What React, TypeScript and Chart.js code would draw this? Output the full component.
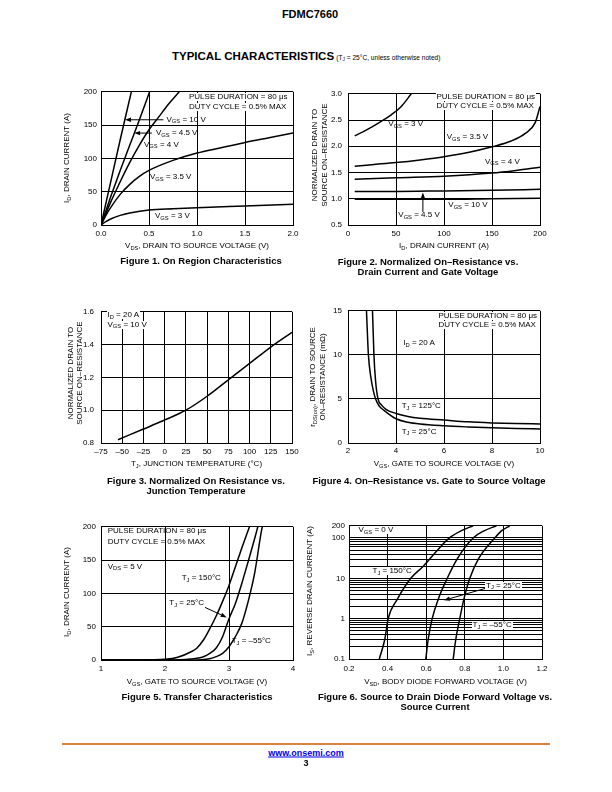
import React, { useEffect, useRef } from "react";
import { Chart, registerables } from "chart.js";

Chart.register(...registerables);

const FONT = "'Liberation Sans', Arial, Helvetica, sans-serif";

// ---------------- Figure 1: On Region Characteristics ----------------
const f1XLabels = ["0.0", "0.5", "1.0", "1.5", "2.0"];
const f1YLabels = ["0", "50", "100", "150", "200"];
const f1Vds10 = [0, 0.1, 0.2, 0.316];
const f1Id10 = [0, 64, 128, 200];
const f1Vds45 = [0, 0.1, 0.2, 0.3, 0.4, 0.506];
const f1Id45 = [0, 42, 82, 120, 158, 200];
const f1Vds4 = [0, 0.1, 0.2, 0.3, 0.4, 0.5, 0.6, 0.7, 0.815];
const f1Id4 = [0, 34, 65, 94, 120, 143, 162, 181, 200];
const f1Vds35 = [0, 0.05, 0.1, 0.2, 0.3, 0.4, 0.5, 0.75, 1.0, 1.25, 1.5, 1.75, 2.0];
const f1Id35 = [0, 14, 26, 46, 61, 73, 82, 97, 108, 116, 124, 131, 138];
const f1Vds3 = [0, 0.05, 0.1, 0.2, 0.3, 0.5, 0.75, 1.0, 1.5, 2.0];
const f1Id3 = [0, 5, 9, 14.5, 18, 22.5, 24.5, 26, 28.5, 31];

// ---------------- Figure 2: Normalized On-Resistance vs Drain Current ----------------
const f2XLabels = ["0", "50", "100", "150", "200"];
const f2YLabels = ["0.5", "1.0", "1.5", "2.0", "2.5", "3.0"];
const f2Id3 = [7, 15, 25, 35, 45, 55, 66];
const f2R3 = [2.2, 2.27, 2.37, 2.48, 2.6, 2.75, 3.0];
const f2Id35 = [7, 25, 50, 75, 100, 125, 150, 170, 185, 195, 200];
const f2R35 = [1.62, 1.65, 1.69, 1.74, 1.8, 1.88, 1.99, 2.1, 2.25, 2.45, 2.76];
const f2Id4 = [7, 50, 100, 150, 175, 200];
const f2R4 = [1.37, 1.4, 1.43, 1.49, 1.54, 1.6];
const f2Id45 = [7, 50, 100, 150, 200];
const f2R45 = [1.14, 1.14, 1.15, 1.16, 1.18];
const f2Id10 = [7, 50, 100, 150, 200];
const f2R10 = [0.99, 0.99, 0.99, 1.0, 1.01];

// ---------------- Figure 3: Normalized On Resistance vs Junction Temperature ----------------
const f3XLabels = ["\u201375", "\u201350", "\u201325", "0", "25", "50", "75", "100", "125", "150"];
const f3YLabels = ["0.8", "1.0", "1.2", "1.4", "1.6"];
const f3Tj = [-55, -25, 0, 25, 50, 75, 100, 125, 150];
const f3R = [0.82, 0.885, 0.94, 1.0, 1.085, 1.185, 1.285, 1.385, 1.475];

// ---------------- Figure 4: On-Resistance vs Gate to Source Voltage ----------------
const f4XLabels = ["2", "4", "6", "8", "10"];
const f4YLabels = ["0", "5", "10", "15"];
const f4Vgs25 = [2.77, 2.8, 2.85, 2.95, 3.05, 3.15, 3.3, 3.5, 4, 4.5, 5, 6, 7, 8, 9, 10];
const f4R25 = [15, 13, 10, 7.5, 6, 5, 4.2, 3.7, 2.75, 2.35, 2.15, 1.95, 1.82, 1.72, 1.65, 1.6];
const f4Vgs125 = [3.02, 3.05, 3.08, 3.15, 3.25, 3.4, 3.6, 4, 4.5, 5, 6, 7, 8, 9, 10];
const f4R125 = [15, 12.5, 10, 7, 5, 4.3, 3.8, 3.35, 3.0, 2.8, 2.6, 2.4, 2.28, 2.2, 2.16];

// ---------------- Figure 5: Transfer Characteristics ----------------
const f5XLabels = ["1", "2", "3", "4"];
const f5YLabels = ["0", "50", "100", "150", "200"];
const f5Vgs150 = [1.0, 1.6, 2.0, 2.2, 2.4, 2.5, 2.6, 2.7, 2.8, 2.9, 3.0, 3.1, 3.2, 3.32];
const f5Id150 = [0, 0, 1, 4, 12, 18, 30, 47, 66, 88, 112, 140, 168, 200];
const f5Vgs25 = [1.0, 2.0, 2.4, 2.6, 2.7, 2.8, 2.9, 3.0, 3.1, 3.2, 3.3, 3.4, 3.45];
const f5Id25 = [0, 0, 1.5, 5, 10, 18, 35, 62, 85, 115, 148, 182, 200];
const f5VgsM55 = [1.0, 2.4, 2.7, 2.8, 2.9, 3.0, 3.1, 3.2, 3.3, 3.4, 3.5, 3.52];
const f5IdM55 = [0, 0, 2, 5, 10, 20, 35, 55, 88, 130, 190, 200];

// ---------------- Figure 6: Source to Drain Diode Forward Voltage ----------------
const f6XLabels = ["0.2", "0.4", "0.6", "0.8", "1.0", "1.2"];
const f6YGrid = [0.1, 0.2, 0.3, 0.4, 0.5, 0.6, 0.7, 0.8, 0.9, 1, 2, 3, 4, 5, 6, 7, 8, 9, 10, 20, 30, 40, 50, 60, 70, 80, 90, 100, 200];
const f6YLabelVals = [0.1, 1, 10, 100, 200];
const f6YLabels = ["0.1", "1", "10", "100", "200"];
const f6Vsd150 = [0.357, 0.385, 0.403, 0.45, 0.52, 0.585, 0.65, 0.72, 0.78, 0.843];
const f6Is150 = [0.1, 0.3, 1, 3, 10, 20, 45, 100, 150, 200];
const f6Vsd25 = [0.598, 0.61, 0.631, 0.662, 0.709, 0.76, 0.843, 0.9, 0.964];
const f6Is25 = [0.1, 0.3, 1, 3, 10, 30, 100, 150, 200];
const f6VsdM55 = [0.74, 0.753, 0.774, 0.795, 0.826, 0.87, 0.955, 0.99, 1.033];
const f6IsM55 = [0.1, 0.3, 1, 3, 10, 30, 100, 150, 200];

// ---------------- chart construction ----------------
type Series = { x: number[]; y: number[] };
type Arrow = { x1: number; y1: number; x2: number; y2: number };
type Axis = {
  min: number;
  max: number;
  step?: number;
  labels: string[];
  pad: number;
  log?: boolean;
  grid?: number[];
  labelVals?: number[];
};
type Spec = { x: Axis; y: Axis; series: Series[]; arrows?: Arrow[] };

const PAD = { l: 45, r: 12, t: 8, b: 20 };

const arrowPlugin = {
  id: "arrows",
  afterDatasetsDraw(chart: any, _args: any, opts: any) {
    const list: Arrow[] = (opts && opts.list) || [];
    const { ctx } = chart;
    const xs = chart.scales.x;
    const ys = chart.scales.y;
    ctx.save();
    ctx.strokeStyle = "#000";
    ctx.fillStyle = "#000";
    ctx.lineWidth = 1;
    for (const a of list) {
      const x1 = xs.getPixelForValue(a.x1);
      const y1 = ys.getPixelForValue(a.y1);
      const x2 = xs.getPixelForValue(a.x2);
      const y2 = ys.getPixelForValue(a.y2);
      const ang = Math.atan2(y2 - y1, x2 - x1);
      const L = 6;
      const W = 2.2;
      const bx = x2 - L * Math.cos(ang);
      const by = y2 - L * Math.sin(ang);
      ctx.beginPath();
      ctx.moveTo(x1, y1);
      ctx.lineTo(bx, by);
      ctx.stroke();
      ctx.beginPath();
      ctx.moveTo(x2, y2);
      ctx.lineTo(bx - W * Math.sin(ang), by + W * Math.cos(ang));
      ctx.lineTo(bx + W * Math.sin(ang), by - W * Math.cos(ang));
      ctx.closePath();
      ctx.fill();
    }
    ctx.restore();
  },
};

function scaleCfg(a: Axis, isX: boolean): any {
  const base: any = {
    min: a.min,
    max: a.max,
    grid: { color: "#000", lineWidth: 1, drawTicks: false },
    border: { color: "#000", width: 1 },
    ticks: {
      padding: a.pad,
      color: "#000",
      font: { family: FONT, size: 8 },
      autoSkip: false,
      maxRotation: 0,
      minRotation: 0,
    },
    afterFit: (sc: any) => {
      if (isX) sc.height = PAD.b;
      else sc.width = PAD.l;
    },
  };
  if (a.log) {
    base.type = "logarithmic";
    base.afterBuildTicks = (sc: any) => {
      sc.ticks = (a.grid || []).map((v) => ({ value: v }));
    };
    base.ticks.callback = (v: number) => {
      const vals = a.labelVals || [];
      const k = vals.findIndex((t) => Math.abs(t - v) < t * 1e-6);
      return k >= 0 ? a.labels[k] : "";
    };
  } else {
    base.type = "linear";
    base.ticks.stepSize = a.step;
    base.ticks.callback = (_v: number, i: number) => a.labels[i] ?? "";
  }
  return base;
}

function buildConfig(s: Spec): any {
  return {
    type: "scatter",
    data: {
      datasets: s.series.map((ser) => ({
        data: ser.x.map((x, i) => ({ x, y: ser.y[i] })),
        showLine: true,
        borderColor: "#000",
        borderWidth: 1.5,
        pointRadius: 0,
        pointHoverRadius: 0,
        fill: false,
        cubicInterpolationMode: "monotone",
      })),
    },
    options: {
      animation: false,
      responsive: false,
      events: [],
      layout: { padding: { top: PAD.t, right: PAD.r, left: 0, bottom: 0 } },
      plugins: {
        legend: { display: false },
        tooltip: { enabled: false },
        arrows: { list: s.arrows || [] },
      },
      scales: { x: scaleCfg(s.x, true), y: scaleCfg(s.y, false) },
    },
    plugins: [arrowPlugin],
  };
}

const spec1: Spec = {
  x: { min: 0, max: 2, step: 0.5, labels: f1XLabels, pad: 4 },
  y: { min: 0, max: 200, step: 50, labels: f1YLabels, pad: 4 },
  series: [
    { x: f1Vds10, y: f1Id10 },
    { x: f1Vds45, y: f1Id45 },
    { x: f1Vds4, y: f1Id4 },
    { x: f1Vds35, y: f1Id35 },
    { x: f1Vds3, y: f1Id3 },
  ],
  arrows: [
    { x1: 0.65, y1: 158, x2: 0.25, y2: 158 },
    { x1: 0.53, y1: 138, x2: 0.345, y2: 138 },
  ],
};

const spec2: Spec = {
  x: { min: 0, max: 200, step: 50, labels: f2XLabels, pad: 4 },
  y: { min: 0.5, max: 3, step: 0.5, labels: f2YLabels, pad: 6 },
  series: [
    { x: f2Id3, y: f2R3 },
    { x: f2Id35, y: f2R35 },
    { x: f2Id4, y: f2R4 },
    { x: f2Id45, y: f2R45 },
    { x: f2Id10, y: f2R10 },
  ],
  arrows: [{ x1: 78, y1: 0.75, x2: 78, y2: 1.12 }],
};

const spec3: Spec = {
  x: { min: -75, max: 150, step: 25, labels: f3XLabels, pad: 4 },
  y: { min: 0.8, max: 1.6, step: 0.2, labels: f3YLabels, pad: 7 },
  series: [{ x: f3Tj, y: f3R }],
};

const spec4: Spec = {
  x: { min: 2, max: 10, step: 2, labels: f4XLabels, pad: 3 },
  y: { min: 0, max: 15, step: 5, labels: f4YLabels, pad: 6 },
  series: [
    { x: f4Vgs25, y: f4R25 },
    { x: f4Vgs125, y: f4R125 },
  ],
};

const spec5: Spec = {
  x: { min: 1, max: 4, step: 1, labels: f5XLabels, pad: 4 },
  y: { min: 0, max: 200, step: 50, labels: f5YLabels, pad: 5 },
  series: [
    { x: f5Vgs150, y: f5Id150 },
    { x: f5Vgs25, y: f5Id25 },
    { x: f5VgsM55, y: f5IdM55 },
  ],
  arrows: [{ x1: 2.625, y1: 79, x2: 2.964, y2: 64 }],
};

const spec6: Spec = {
  x: { min: 0.2, max: 1.2, step: 0.2, labels: f6XLabels, pad: 5 },
  y: {
    min: 0.1,
    max: 200,
    labels: f6YLabels,
    labelVals: f6YLabelVals,
    grid: f6YGrid,
    log: true,
    pad: 4,
  },
  series: [
    { x: f6Vsd150, y: f6Is150 },
    { x: f6Vsd25, y: f6Is25 },
    { x: f6VsdM55, y: f6IsM55 },
  ],
  arrows: [{ x1: 0.905, y1: 5.6, x2: 0.692, y2: 2.85 }],
};

function Plot({ box, spec }: { box: number[]; spec: Spec }) {
  const ref = useRef<HTMLCanvasElement>(null);
  const [L, T, R, B] = box;
  const w = R - L + PAD.l + PAD.r;
  const h = B - T + PAD.t + PAD.b;
  useEffect(() => {
    const chart = new Chart(ref.current as HTMLCanvasElement, buildConfig(spec));
    return () => chart.destroy();
  }, []);
  return (
    <canvas
      ref={ref}
      width={w}
      height={h}
      style={{ position: "absolute", left: L - PAD.l, top: T - PAD.t, width: w, height: h, zIndex: 1 }}
    />
  );
}

// ---------------- text helpers ----------------
const S = ({ c }: { c: string }) => (
  <span style={{ fontSize: "0.72em", position: "relative", top: "0.28em" }}>{c}</span>
);

function Txt(props: {
  x: number;
  y: number;
  size?: number;
  bold?: boolean;
  align?: "left" | "center" | "right";
  bg?: boolean;
  color?: string;
  underline?: boolean;
  children: any;
}) {
  const { x, y, size = 8, bold = false, align = "left", bg = false, color = "#000", underline = false } = props;
  const tx = align === "center" ? "-50%" : align === "right" ? "-100%" : "0";
  return (
    <div
      style={{
        position: "absolute",
        left: x,
        top: y,
        transform: `translate(${tx}, -50%)`,
        fontFamily: FONT,
        fontSize: size,
        fontWeight: bold ? "bold" : "normal",
        lineHeight: 1,
        whiteSpace: "nowrap",
        color,
        background: bg ? "#fff" : "transparent",
        padding: bg ? "0 1px" : 0,
        textDecoration: underline ? "underline" : "none",
        zIndex: 2,
      }}
    >
      {props.children}
    </div>
  );
}

function VTxt({ x, y, size = 8, children }: { x: number; y: number; size?: number; children: any }) {
  return (
    <div
      style={{
        position: "absolute",
        left: x,
        top: y,
        transform: "translate(-50%, -50%) rotate(-90deg)",
        fontFamily: FONT,
        fontSize: size,
        lineHeight: 1,
        whiteSpace: "nowrap",
        color: "#000",
        zIndex: 2,
      }}
    >
      {children}
    </div>
  );
}

export default function App() {
  return (
    <div
      style={{
        position: "absolute",
        left: 0,
        top: 0,
        width: 612,
        height: 792,
        background: "#fff",
        overflow: "hidden",
        fontFamily: FONT,
        color: "#000",
      }}
    >
      {/* header */}
      <Txt x={310} y={14} size={11} bold align="center">
        FDMC7660
      </Txt>
      <Txt x={172} y={57}>
        <span style={{ fontSize: 11.5, fontWeight: "bold" }}>TYPICAL CHARACTERISTICS</span>{" "}
        <span style={{ fontSize: 6.6 }}>
          (T<S c="J" /> = 25°C, unless otherwise noted)
        </span>
      </Txt>

      {/* Figure 1 */}
      <Plot box={[101, 91, 293, 225]} spec={spec1} />
      <VTxt x={67} y={158}>
        I<S c="D" />, DRAIN CURRENT (A)
      </VTxt>
      <Txt x={197} y={246} align="center">
        V<S c="DS" />, DRAIN TO SOURCE VOLTAGE (V)
      </Txt>
      <Txt x={201} y={261} size={9.5} bold align="center">
        Figure 1. On Region Characteristics
      </Txt>
      <Txt x={188} y={97} bg>PULSE DURATION = 80 μs</Txt>
      <Txt x={188} y={107} bg>DUTY CYCLE = 0.5% MAX</Txt>
      <Txt x={166.5} y={119.5}>V<S c="GS" /> = 10 V</Txt>
      <Txt x={156} y={133}>V<S c="GS" /> = 4.5 V</Txt>
      <Txt x={144} y={144.5}>V<S c="GS" /> = 4 V</Txt>
      <Txt x={150} y={177}>V<S c="GS" /> = 3.5 V</Txt>
      <Txt x={155} y={216}>V<S c="GS" /> = 3 V</Txt>

      {/* Figure 2 */}
      <Plot box={[348, 91, 540, 225]} spec={spec2} />
      <VTxt x={315} y={155}>NORMALIZED DRAIN TO</VTxt>
      <VTxt x={325} y={155}>SOURCE ON–RESISTANCE</VTxt>
      <Txt x={444} y={246} align="center">
        I<S c="D" />, DRAIN CURRENT (A)
      </Txt>
      <Txt x={428} y={262} size={9.5} bold align="center">
        Figure 2. Normalized On–Resistance vs.
      </Txt>
      <Txt x={428} y={272} size={9.5} bold align="center">
        Drain Current and Gate Voltage
      </Txt>
      <Txt x={435.5} y={96.7} bg>PULSE DURATION = 80 μs</Txt>
      <Txt x={435.5} y={106} bg>DUTY CYCLE = 0.5% MAX</Txt>
      <Txt x={388.3} y={124}>V<S c="GS" /> = 3 V</Txt>
      <Txt x={446.7} y={137.3}>V<S c="GS" /> = 3.5 V</Txt>
      <Txt x={485} y={161.7}>V<S c="GS" /> = 4 V</Txt>
      <Txt x={448.3} y={205}>V<S c="GS" /> = 10 V</Txt>
      <Txt x={398.3} y={215}>V<S c="GS" /> = 4.5 V</Txt>

      {/* Figure 3 */}
      <Plot box={[101, 308, 292, 443]} spec={spec3} />
      <VTxt x={71} y={373}>NORMALIZED DRAIN TO</VTxt>
      <VTxt x={80} y={373}>SOURCE ON–RESISTANCE</VTxt>
      <Txt x={196.5} y={464} align="center">
        T<S c="J" />, JUNCTION TEMPERATURE (°C)
      </Txt>
      <Txt x={196} y={481} size={9.5} bold align="center">
        Figure 3. Normalized On Resistance vs.
      </Txt>
      <Txt x={196} y={491} size={9.5} bold align="center">
        Junction Temperature
      </Txt>
      <Txt x={106.5} y={315} bg>I<S c="D" /> = 20 A</Txt>
      <Txt x={106.5} y={324.5} bg>V<S c="GS" /> = 10 V</Txt>

      {/* Figure 4 */}
      <Plot box={[348, 308, 540, 443]} spec={spec4} />
      <VTxt x={313} y={377}>
        r<S c="DS(on)" />, DRAIN TO SOURCE
      </VTxt>
      <VTxt x={322.5} y={377}>ON–RESISTANCE (mΩ)</VTxt>
      <Txt x={444} y={464} align="center">
        V<S c="GS" />, GATE TO SOURCE VOLTAGE (V)
      </Txt>
      <Txt x={429} y={481} size={9.5} bold align="center">
        Figure 4. On–Resistance vs. Gate to Source Voltage
      </Txt>
      <Txt x={437.5} y={316} bg>PULSE DURATION = 80 μs</Txt>
      <Txt x={437.5} y={325} bg>DUTY CYCLE = 0.5% MAX</Txt>
      <Txt x={403.3} y={343.3}>I<S c="D" /> = 20 A</Txt>
      <Txt x={401.7} y={406}>T<S c="J" /> = 125°C</Txt>
      <Txt x={401.7} y={431.7}>T<S c="J" /> = 25°C</Txt>

      {/* Figure 5 */}
      <Plot box={[101, 525, 293, 660]} spec={spec5} />
      <VTxt x={67} y={592}>
        I<S c="D" />, DRAIN CURRENT (A)
      </VTxt>
      <Txt x={197} y={682} align="center">
        V<S c="GS" />, GATE TO SOURCE VOLTAGE (V)
      </Txt>
      <Txt x={197} y={697} size={9.5} bold align="center">
        Figure 5. Transfer Characteristics
      </Txt>
      <Txt x={107.7} y={530.7}>PULSE DURATION = 80 μs</Txt>
      <Txt x={107.7} y={541.7}>DUTY CYCLE = 0.5% MAX</Txt>
      <Txt x={107.7} y={566.7}>V<S c="DS" /> = 5 V</Txt>
      <Txt x={181.7} y={578.3}>T<S c="J" /> = 150°C</Txt>
      <Txt x={169.3} y={603.3}>T<S c="J" /> = 25°C</Txt>
      <Txt x={231.7} y={641}>T<S c="J" /> = –55°C</Txt>

      {/* Figure 6 */}
      <Plot box={[349, 525, 542, 659]} spec={spec6} />
      <VTxt x={310} y={591}>
        I<S c="S" />, REVERSE DRAIN CURRENT (A)
      </VTxt>
      <Txt x={445.5} y={682} align="center">
        V<S c="SD" />, BODY DIODE FORWARD VOLTAGE (V)
      </Txt>
      <Txt x={435} y={697} size={9.5} bold align="center">
        Figure 6. Source to Drain Diode Forward Voltage vs.
      </Txt>
      <Txt x={435} y={707} size={9.5} bold align="center">
        Source Current
      </Txt>
      <Txt x={357.5} y={530} bg>V<S c="GS" /> = 0 V</Txt>
      <Txt x={371.5} y={571} bg>T<S c="J" /> = 150°C</Txt>
      <Txt x={485} y={585.7} bg>T<S c="J" /> = 25°C</Txt>
      <Txt x={471.5} y={625} bg>T<S c="J" /> = –55°C</Txt>

      {/* footer */}
      <div style={{ position: "absolute", left: 62, top: 743, width: 488, height: 2, background: "#D9823B" }} />
      <Txt x={306} y={752.5} size={9} bold align="center" color="#0000EE" underline>
        www.onsemi.com
      </Txt>
      <Txt x={306} y={762.5} size={9} bold align="center">
        3
      </Txt>
    </div>
  );
}
